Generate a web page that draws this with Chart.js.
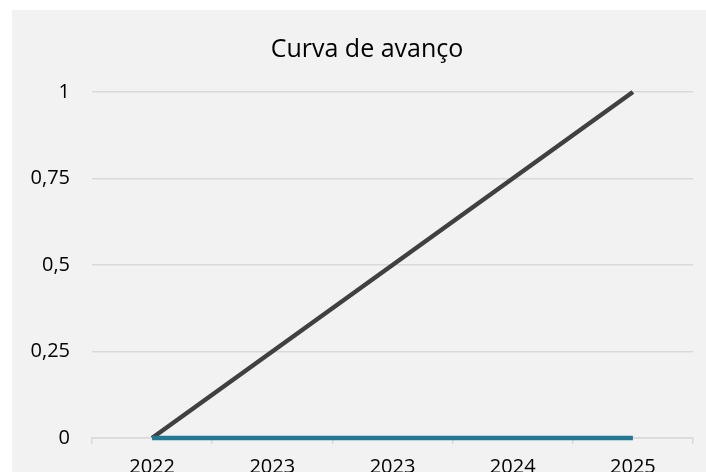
<!DOCTYPE html>
<html>
<head>
<meta charset="utf-8">
<script src="https://cdn.jsdelivr.net/npm/chart.js@4.4.1/dist/chart.umd.min.js"></script>
<style>
    html, body { margin: 0; padding: 0; background: #ffffff; overflow: hidden; }
    #wrap { position: absolute; left: 12px; top: 10px; width: 694px; height: 490px; background: #f2f2f2; }
</style>
</head>
<body>
<div id="wrap"><canvas id="progressChart" width="694" height="490"></canvas></div>
<script>
const years = ['2022', '2023', '2023', '2024', '2025'];
const plannedProgress = [0, 0.25, 0.5, 0.75, 1];
const actualProgress = [0, 0, 0, 0, 0];
const yTicks = [0, 0.25, 0.5, 0.75, 1];
const chartTitle = 'Curva de avanço';

const fontFamily = '"Open Sans", "Noto Sans", sans-serif';

// the title sits a bit left of the plot centre, so draw it by hand
const titlePlugin = {
    id: 'offsetTitle',
    afterDraw(chart) {
        const c = chart.ctx;
        c.save();
        c.font = '25px ' + fontFamily;
        c.fillStyle = '#000000';
        c.textAlign = 'center';
        c.textBaseline = 'alphabetic';
        c.fillText(chartTitle, 355, 47);
        c.restore();
    }
};

const ctx = document.getElementById('progressChart').getContext('2d');
const progressChart = new Chart(ctx, {
    type: 'line',
    data: {
        labels: years,
        datasets: [{
            label: 'Real',
            data: actualProgress,
            borderColor: '#237893',
            borderWidth: 4.5,
            pointRadius: 0,
            tension: 0,
            clip: false,
        }, {
            label: 'Previsto',
            data: plannedProgress,
            borderColor: '#404040',
            borderWidth: 4.5,
            pointRadius: 0,
            tension: 0,
            clip: false,
        }]
    },
    options: {
        responsive: false,
        animation: false,
        layout: {
            padding: { top: 82, right: 13, left: 0, bottom: 0 }
        },
        plugins: {
            legend: { display: false },
            tooltip: { enabled: false },
            title: { display: false },
        },
        scales: {
            x: {
                offset: true,
                grid: {
                    offset: true,
                    drawOnChartArea: false,
                    drawTicks: true,
                    tickLength: 6,
                    color: '#d9d9d9',
                    lineWidth: 1.5,
                },
                border: { display: true, color: '#d9d9d9', width: 1.5 },
                ticks: {
                    color: '#000000',
                    font: { family: fontFamily, size: 20 },
                    padding: 11,
                    maxRotation: 0,
                    autoSkip: false,
                },
                afterFit: (scale) => { scale.height = 62; },
            },
            y: {
                min: 0,
                max: 1,
                afterBuildTicks: (scale) => {
                    scale.ticks = yTicks.map(v => ({ value: v }));
                },
                grid: {
                    color: '#d9d9d9',
                    lineWidth: 1.5,
                    drawTicks: false,
                },
                border: { display: false },
                ticks: {
                    color: '#000000',
                    font: { family: fontFamily, size: 20 },
                    padding: 22,
                    callback: (value) => String(value).replace('.', ','),
                },
                afterFit: (scale) => { scale.width = 80; },
            }
        }
    },
    plugins: [titlePlugin]
});
</script>
</body>
</html>
